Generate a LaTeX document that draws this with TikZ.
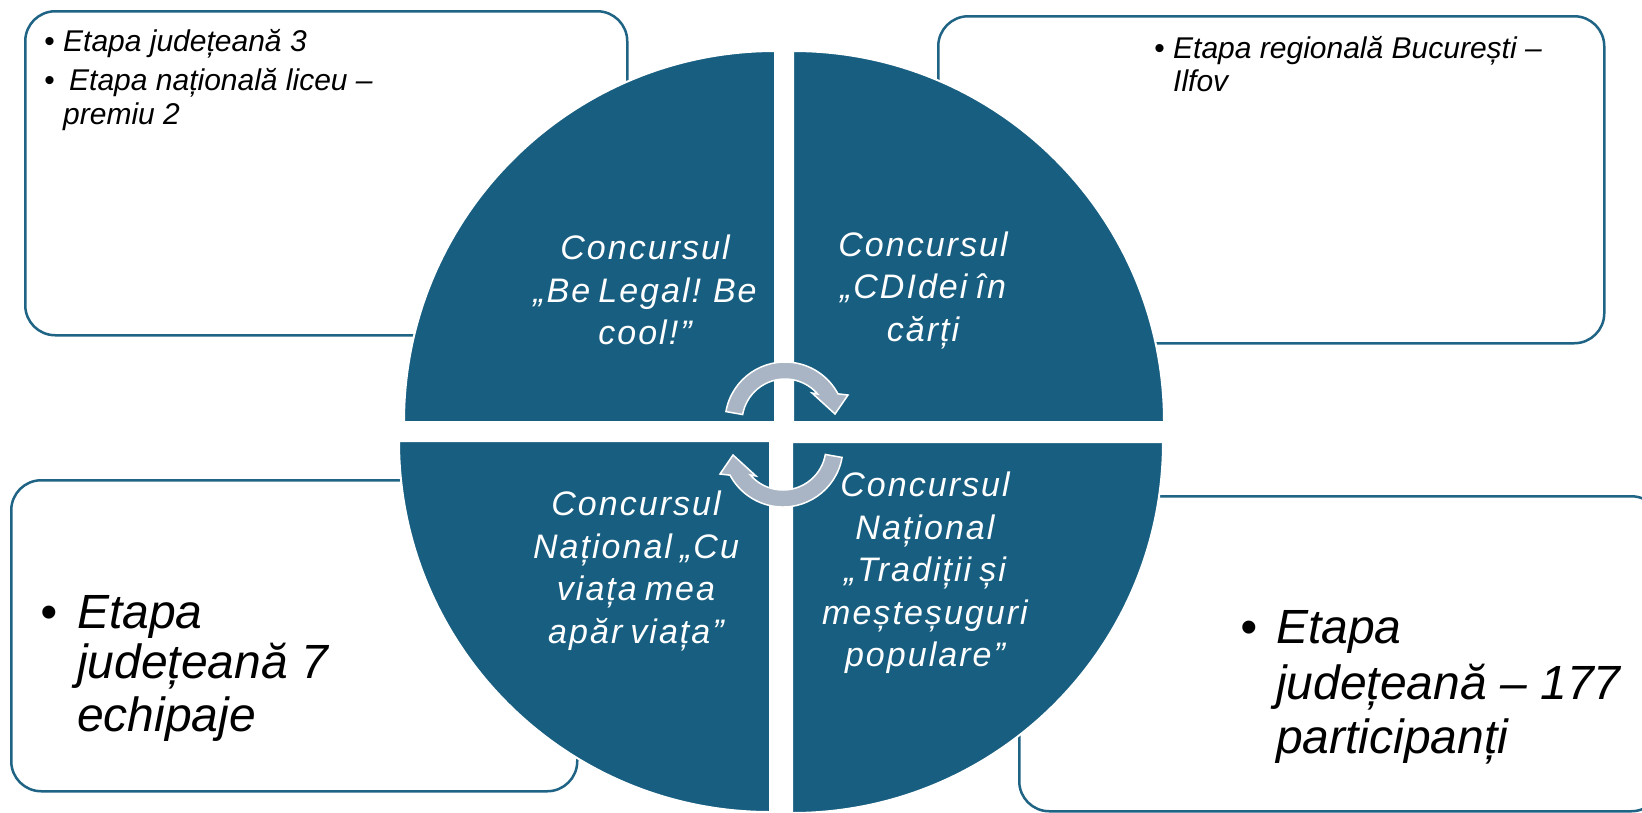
\documentclass[tikz,border=0pt]{standalone}
\usepackage{fontspec}
\setmainfont{Liberation Sans}
\newfontfamily\circfont[LetterSpace=6,WordSpace=0.7]{Liberation Sans}
\definecolor{quad}{RGB}{23,94,128}
\definecolor{boxline}{RGB}{31,99,133}
\definecolor{arrowfill}{RGB}{169,181,196}
\tikzset{
  infobox/.style={draw=boxline, line width=2.5pt, fill=white, rounded corners=30pt,
    inner sep=0pt, anchor=north west},
  quadrant/.style={fill=quad, draw=white, line width=2pt},
  cyclearrow/.style={fill=arrowfill, draw=white, line width=1.5pt, line join=miter},
  smalltxt/.style={font=\fontsize{30}{33}\selectfont\itshape, anchor=base west, inner sep=0pt},
  bigtxt/.style={font=\fontsize{48}{54}\selectfont\itshape, anchor=base west, inner sep=0pt},
  circtxt/.style={font=\circfont\fontsize{34}{42.5}\selectfont\itshape, text=white,
    align=center, inner sep=0pt},
}
\newcommand\arrowshape{%
  (190:60) arc[start angle=190, end angle=332, radius=60]
  -- (63,-27) -- (50,-8) -- (27,-29)
  -- (319.4:43) arc[start angle=319.4, end angle=190, radius=43] -- cycle}
\begin{document}
\begin{tikzpicture}[x=1pt,y=-1pt]
\useasboundingbox (0,0) rectangle (1642,812);
\clip (0,0) rectangle (1642,812);

% corner boxes
\node[infobox, minimum width=602pt, minimum height=324pt] (boxTL) at (24,10) {};
\node[infobox, minimum width=666pt, minimum height=327pt] (boxTR) at (937,15) {};
\node[infobox, minimum width=566pt, minimum height=311pt] (boxBL) at (10,479) {};
\node[infobox, minimum width=642pt, minimum height=315pt] (boxBR) at (1018,495) {};

% quadrants
\path[quadrant] (775,422) -- (404,422) arc[start angle=180, end angle=270, radius=371] -- cycle;
\path[quadrant] (793,422) -- (793,51) arc[start angle=270, end angle=360, radius=371] -- cycle;
\path[quadrant] (770,441) -- (770,812) arc[start angle=90, end angle=180, radius=371] -- cycle;
\path[quadrant] (792,442) -- (1163,442) arc[start angle=0, end angle=90, radius=371] -- cycle;

% cycle arrows
\begin{scope}[shift={(785,422)}]
  \path[cyclearrow] \arrowshape;
\end{scope}
\begin{scope}[shift={(783,447)}, rotate=180]
  \path[cyclearrow] \arrowshape;
\end{scope}

% circle texts
\node[circtxt] (tTL) at (645,290) {Concursul\\„Be Legal! Be\\cool!”};
\node[circtxt] (tTR) at (923,290) {Concursul\\„CDIdei în\\cărți};
\node[circtxt] (tBL) at (636,571) {Concursul\\Național „Cu\\viața mea\\apăr viața”};
\node[circtxt] (tBR) at (925,573) {Concursul\\Național\\„Tradiții și\\meșteșuguri\\populare”};

% top-left box text
\node[smalltxt] (bTL1) at (44,51) {•};
\node[smalltxt] (sTL1) at (63,51) {Etapa județeană 3};
\node[smalltxt] (bTL2) at (44,90) {•};
\node[smalltxt] (sTL2) at (69,90) {Etapa națională liceu –};
\node[smalltxt] (sTL3) at (63,124) {premiu 2};

% top-right box text
\node[smalltxt] (bTR1) at (1154,58) {•};
\node[smalltxt] (sTR1) at (1173,58) {Etapa regională București –};
\node[smalltxt] (sTR2) at (1173,91) {Ilfov};

% bottom-left box text
\node[bigtxt] (bBL1) at (40,628) {•};
\node[bigtxt] (sBL1) at (77,628) {Etapa};
\node[bigtxt] (sBL2) at (77,678) {județeană 7};
\node[bigtxt] (sBL3) at (77,731) {echipaje};

% bottom-right box text
\node[bigtxt] (bBR1) at (1240,643) {•};
\node[bigtxt] (sBR1) at (1276,643) {Etapa};
\node[bigtxt] (sBR2) at (1276,699) {județeană – 177};
\node[bigtxt] (sBR3) at (1276,753) {participanți};
\end{tikzpicture}
\end{document}
